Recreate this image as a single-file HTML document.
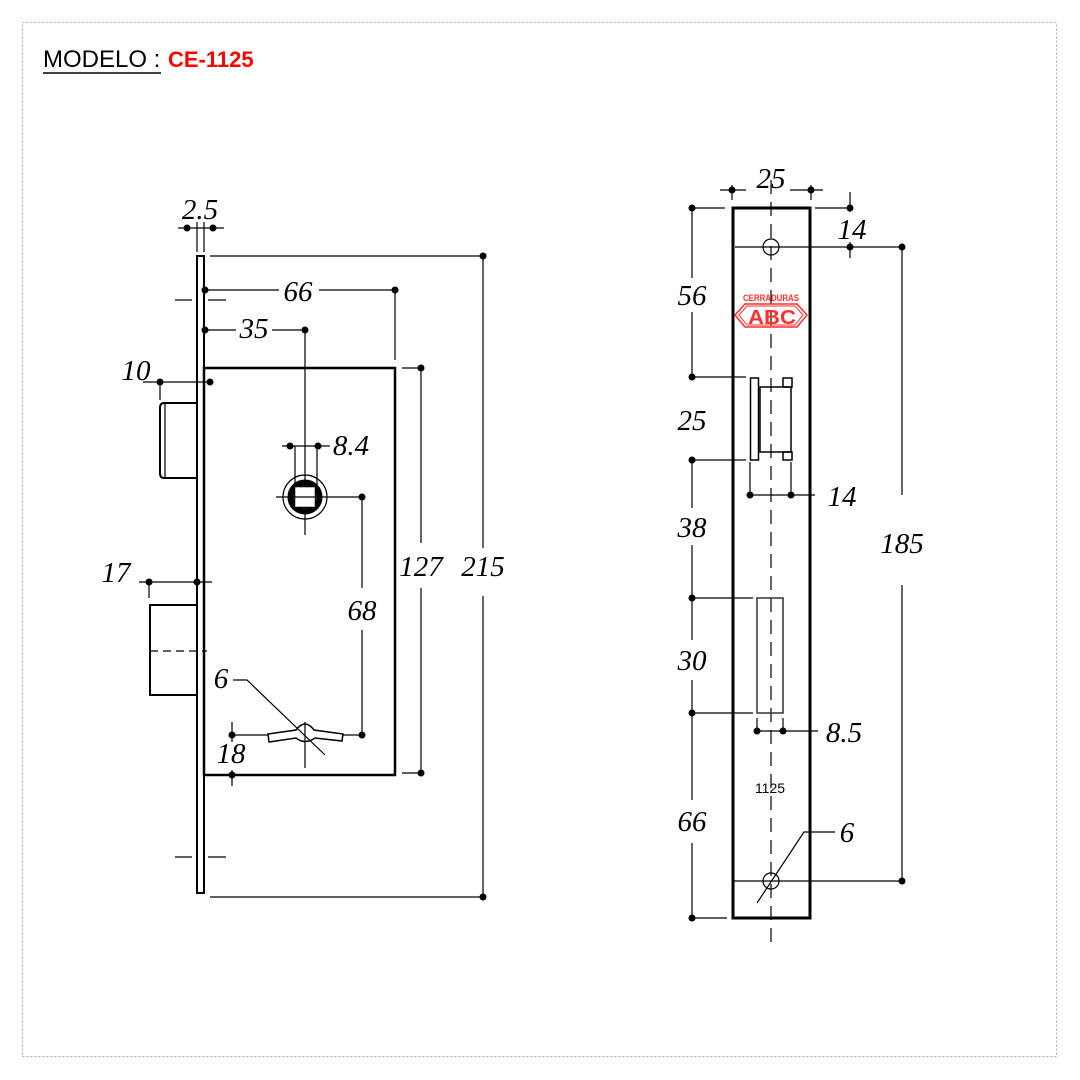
<!DOCTYPE html>
<html><head><meta charset="utf-8"><style>
html,body{margin:0;padding:0;background:#fff;}
svg{display:block;}
.d{font-family:"Liberation Serif",serif;font-style:italic;font-size:29px;fill:#000;text-anchor:middle;}
</style></head><body>
<svg width="1080" height="1080" viewBox="0 0 1080 1080" xmlns="http://www.w3.org/2000/svg">
<rect x="0" y="0" width="1080" height="1080" fill="#fff"/>
<rect x="22.5" y="22.5" width="1034" height="1034" fill="none" stroke="#aaa" stroke-width="1" stroke-dasharray="2,2"/>
<text x="43" y="67" font-family="Liberation Sans,sans-serif" font-size="24" fill="#000">MODELO :</text>
<line x1="43" y1="73" x2="161" y2="73" stroke="#000" stroke-width="1.5"/>
<text x="168" y="67" font-family="Liberation Sans,sans-serif" font-size="22" font-weight="bold" fill="#f00">CE-1125</text>

<g stroke="#000" fill="none" stroke-width="1.2">
<rect x="197" y="256" width="7" height="637" stroke-width="2"/>
<rect x="204" y="368" width="191" height="407" stroke-width="2.5"/>
<path d="M197 403 H164 Q160 403 160 408 V473 Q160 478 164 478 H197" stroke-width="2"/>
<line x1="165" y1="403" x2="165" y2="478"/>
<path d="M197 605 H150 V695 H197" stroke-width="2"/>
<line x1="150" y1="651" x2="207" y2="651" stroke-dasharray="8,5"/>
<line x1="175" y1="300" x2="192" y2="300"/><line x1="208" y1="300" x2="226" y2="300"/>
<line x1="175" y1="857" x2="192" y2="857"/><line x1="208" y1="857" x2="226" y2="857"/>
<line x1="197" y1="222" x2="197" y2="252"/><line x1="204" y1="222" x2="204" y2="252"/>
<line x1="178" y1="228" x2="224" y2="228"/>
<line x1="210" y1="256" x2="483" y2="256"/><line x1="210" y1="897" x2="483" y2="897"/>
<line x1="483" y1="256" x2="483" y2="548"/><line x1="483" y1="596" x2="483" y2="897"/>
<line x1="402" y1="368" x2="421" y2="368"/><line x1="402" y1="773" x2="421" y2="773"/>
<line x1="421" y1="368" x2="421" y2="543"/><line x1="421" y1="588" x2="421" y2="773"/>
<line x1="205" y1="290" x2="279" y2="290"/><line x1="319" y1="290" x2="395" y2="290"/>
<line x1="395" y1="290" x2="395" y2="360"/>
<line x1="205" y1="330" x2="236" y2="330"/><line x1="272" y1="330" x2="305" y2="330"/>
<line x1="305" y1="330" x2="305" y2="535"/>
<line x1="143" y1="382" x2="210" y2="382"/><line x1="160" y1="382" x2="160" y2="400"/>
<line x1="282" y1="446" x2="330" y2="446"/>
<line x1="295" y1="446" x2="295" y2="490"/><line x1="317" y1="446" x2="317" y2="490"/>
<circle cx="305" cy="497" r="22"/>
<circle cx="305" cy="497" r="14.5" stroke-width="6"/>
<rect x="294.5" y="486.5" width="21" height="21" fill="#fff" stroke-width="1.5"/>
<line x1="276" y1="497" x2="362" y2="497"/>
<line x1="362" y1="497" x2="362" y2="588"/><line x1="362" y1="630" x2="362" y2="735"/>
<line x1="232" y1="735" x2="362" y2="735"/>
<line x1="232" y1="722" x2="232" y2="742"/><line x1="232" y1="770" x2="232" y2="786"/>
<path d="M268 734 L296 730 Q305 718 314 730 L343 734 L342 741 L315 738 Q305 745 296 738 L269 742 Z" stroke-width="1.5" fill="#fff"/>
<line x1="305" y1="722" x2="305" y2="768"/>
<polyline points="233,680 247,680 325,755"/>
<line x1="139" y1="582" x2="212" y2="582"/><line x1="149" y1="582" x2="149" y2="598"/>

<rect x="733" y="208" width="77" height="710" stroke-width="3"/>
<line x1="771" y1="180" x2="771" y2="942" stroke-dasharray="14,8"/>
<line x1="720" y1="190" x2="746" y2="190"/><line x1="790" y1="190" x2="823" y2="190"/>
<line x1="732" y1="185" x2="732" y2="200"/><line x1="811" y1="185" x2="811" y2="200"/>
<line x1="815" y1="208" x2="850" y2="208"/>
<line x1="850" y1="192" x2="850" y2="212"/><line x1="850" y1="242" x2="850" y2="258"/>
<circle cx="771" cy="247" r="8"/>
<line x1="735" y1="247" x2="905" y2="247"/>
<line x1="902" y1="247" x2="902" y2="495"/><line x1="902" y1="585" x2="902" y2="881"/>
<circle cx="771" cy="881" r="8"/>
<line x1="732" y1="881" x2="905" y2="881"/>
<polyline points="835,832 804,832 757,903"/>
<line x1="692" y1="208" x2="692" y2="278"/><line x1="692" y1="312" x2="692" y2="377"/>
<line x1="692" y1="460" x2="692" y2="508"/><line x1="692" y1="545" x2="692" y2="598"/>
<line x1="692" y1="598" x2="692" y2="640"/><line x1="692" y1="680" x2="692" y2="713"/>
<line x1="692" y1="713" x2="692" y2="800"/><line x1="692" y1="843" x2="692" y2="918"/>
<line x1="692" y1="208" x2="725" y2="208"/>
<line x1="692" y1="377" x2="746" y2="377"/>
<line x1="692" y1="460" x2="746" y2="460"/>
<line x1="692" y1="598" x2="753" y2="598"/>
<line x1="692" y1="713" x2="753" y2="713"/>
<line x1="692" y1="918" x2="727" y2="918"/>
<rect x="750.5" y="378" width="8" height="82" stroke-width="1.5"/>
<rect x="760" y="387" width="31" height="65" stroke-width="1.5"/>
<rect x="783" y="378" width="9" height="9" stroke-width="1.5"/>
<rect x="783" y="452" width="9" height="8" stroke-width="1.5"/>
<line x1="750" y1="462" x2="750" y2="495"/><line x1="791" y1="462" x2="791" y2="495"/>
<line x1="750" y1="495" x2="815" y2="495"/>
<rect x="757" y="598" width="26" height="115" stroke-width="1.5" stroke="#333"/>
<line x1="757" y1="731" x2="818" y2="731"/>
<line x1="757" y1="718" x2="757" y2="731"/><line x1="783" y1="718" x2="783" y2="731"/>
</g>

<g fill="#000">
<circle cx="187" cy="228" r="3.5"/><circle cx="213" cy="228" r="3.5"/>
<circle cx="483" cy="256" r="3.5"/><circle cx="483" cy="897" r="3.5"/>
<circle cx="421" cy="368" r="3.5"/><circle cx="421" cy="773" r="3.5"/>
<circle cx="205" cy="290" r="3.5"/><circle cx="395" cy="290" r="3.5"/>
<circle cx="205" cy="330" r="3.5"/><circle cx="305" cy="330" r="3.5"/>
<circle cx="160" cy="382" r="3.5"/><circle cx="210" cy="382" r="3.5"/>
<circle cx="290" cy="446" r="3.5"/><circle cx="318" cy="446" r="3.5"/>
<circle cx="362" cy="497" r="3.5"/><circle cx="362" cy="735" r="3.5"/>
<circle cx="232" cy="735" r="3.5"/><circle cx="232" cy="775" r="3.5"/>
<circle cx="149" cy="582" r="3.5"/><circle cx="197" cy="582" r="3.5"/>
<circle cx="732" cy="190" r="3.5"/><circle cx="811" cy="190" r="3.5"/>
<circle cx="850" cy="208" r="3.5"/><circle cx="850" cy="247" r="3.5"/>
<circle cx="902" cy="247" r="3.5"/><circle cx="902" cy="881" r="3.5"/>
<circle cx="692" cy="208" r="3.5"/><circle cx="692" cy="377" r="3.5"/>
<circle cx="692" cy="460" r="3.5"/><circle cx="692" cy="598" r="3.5"/>
<circle cx="692" cy="713" r="3.5"/><circle cx="692" cy="918" r="3.5"/>
<circle cx="750" cy="495" r="3.5"/><circle cx="791" cy="495" r="3.5"/>
<circle cx="757" cy="731" r="3.5"/><circle cx="783" cy="731" r="3.5"/>
</g>

<text class="d" x="200" y="219">2.5</text>
<text class="d" x="298" y="301">66</text>
<text class="d" x="254" y="338" font-size="24">35</text>
<text class="d" x="136" y="380">10</text>
<text class="d" x="351" y="455" font-size="26">8.4</text>
<text class="d" x="421" y="576">127</text>
<text class="d" x="483" y="576">215</text>
<text class="d" x="116" y="582">17</text>
<text class="d" x="362" y="620" font-size="26">68</text>
<text class="d" x="221" y="688" font-size="26">6</text>
<text class="d" x="231" y="763" font-size="26">18</text>

<text class="d" x="771" y="188">25</text>
<text class="d" x="852" y="239">14</text>
<text class="d" x="692" y="305">56</text>
<text class="d" x="692" y="430">25</text>
<text class="d" x="692" y="537">38</text>
<text class="d" x="692" y="670">30</text>
<text class="d" x="692" y="831">66</text>
<text class="d" x="842" y="506">14</text>
<text class="d" x="902" y="553">185</text>
<text class="d" x="844" y="742">8.5</text>
<text class="d" x="847" y="842">6</text>
<text x="770" y="793" font-family="Liberation Sans,sans-serif" font-size="14" text-anchor="middle" fill="#000">1125</text>

<text x="771" y="301" font-family="Liberation Sans,sans-serif" font-weight="bold" font-size="9" text-anchor="middle" fill="#ff3030" textLength="56" lengthAdjust="spacingAndGlyphs">CERRADURAS</text>
<polygon points="735,315 745,304 797,304 807,315 797,327 745,327" fill="none" stroke="#ff3030" stroke-width="1.5"/>
<polygon points="739,315 747,306 795,306 803,315 795,325 747,325" fill="none" stroke="#ff3030" stroke-width="1"/>
<text x="772" y="324" font-family="Liberation Sans,sans-serif" font-weight="bold" font-size="20" text-anchor="middle" fill="#ff3030" textLength="48" lengthAdjust="spacingAndGlyphs">ABC</text>
</svg>
</body></html>
